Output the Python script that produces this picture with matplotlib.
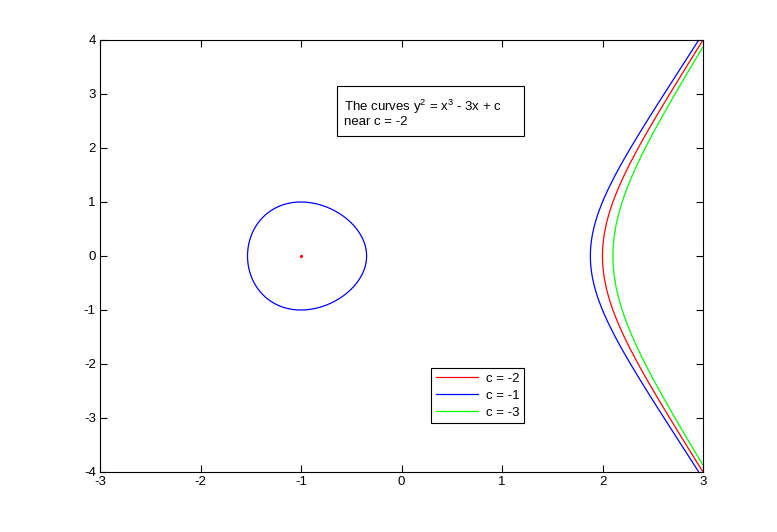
import numpy as np
import matplotlib
matplotlib.use("Agg")
import matplotlib.pyplot as plt
from matplotlib.lines import Line2D
from matplotlib.patches import Rectangle

# data
c_values = [-2, -1, -3]
curve_colors = ["#ff0000", "#0000ff", "#00ff00"]
legend_labels = ["c = -2", "c = -1", "c = -3"]
isolated_point_x = [-1]
isolated_point_y = [0]
x_range = [-3, 3]
y_range = [-4, 4]
x_ticks = [-3, -2, -1, 0, 1, 2, 3]
y_ticks = [-4, -3, -2, -1, 0, 1, 2, 3, 4]
annotation = "The curves y$^2$ = x$^3$ - 3x + c\nnear c = -2"

plt.rcParams["font.family"] = ["Liberation Sans", "DejaVu Sans"]
plt.rcParams["mathtext.fontset"] = "custom"
plt.rcParams["mathtext.rm"] = "Liberation Sans"
plt.rcParams["mathtext.default"] = "regular"
plt.rcParams["axes.unicode_minus"] = False

fig = plt.figure(figsize=(7.77, 5.32), dpi=100)
ax = fig.add_axes([100/777, 1-472/532, 603/777, 432/532])

xs = np.linspace(x_range[0], x_range[1], 1200)
ys = np.linspace(y_range[0], y_range[1], 1600)
X, Y = np.meshgrid(xs, ys)
F = Y**2 - X**3 + 3*X  # equals c on the curve

for c, col in zip(c_values, curve_colors):
    ax.contour(X, Y, F, levels=[c], colors=[col], linewidths=0.9,
               linestyles="solid")

ax.plot(isolated_point_x, isolated_point_y, marker="o", color="#ff0000",
        markersize=1.3, linestyle="none")

ax.set_xlim(x_range)
ax.set_ylim(y_range)
ax.set_xticks(x_ticks)
ax.set_yticks(y_ticks)
ax.tick_params(direction="in", top=True, right=True, length=5, width=0.8,
               labelsize=9.5, pad=3, colors="black")
for s in ax.spines.values():
    s.set_linewidth(0.8)

handles = [Line2D([], [], color=col, linewidth=0.9) for col in curve_colors]
leg = ax.legend(handles, legend_labels, loc="lower right",
                bbox_to_anchor=(0.703, 0.113), fontsize=9.5, frameon=True,
                fancybox=False, edgecolor="black", framealpha=1,
                handlelength=3.2, borderpad=0.35, labelspacing=0.35,
                handletextpad=0.6, borderaxespad=0)
leg.get_frame().set_linewidth(0.8)

ax.add_patch(Rectangle((0.393, 0.778), 0.31, 0.116, transform=ax.transAxes,
                       facecolor="white", edgecolor="black", linewidth=0.8,
                       zorder=4))
ax.text(0.404, 0.866, annotation,
        transform=ax.transAxes, fontsize=9.5, va="top", ha="left",
        linespacing=1.0, zorder=5)

fig.savefig("out.png", dpi=100)
